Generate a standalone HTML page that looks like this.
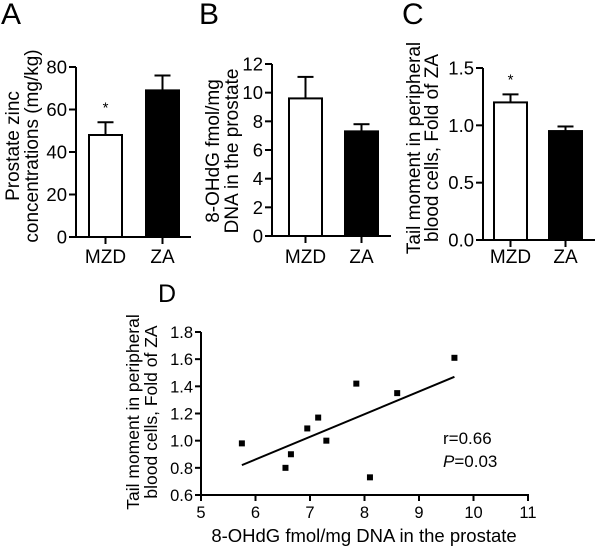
<!DOCTYPE html>
<html><head><meta charset="utf-8"><style>
body{margin:0;background:#fff}
svg{display:block;font-family:"Liberation Sans",Arial,sans-serif}
</style></head><body>
<svg id="fig" width="600" height="551" viewBox="0 0 600 551">
</svg>
<script>
const barCats=["MZD","ZA"];
const aVals=[48,69], aErr=[54,76], aTicks=[0,20,40,60,80];
const bVals=[9.6,7.3], bErr=[11.1,7.8], bTicks=[0,2,4,6,8,10,12];
const cVals=[1.20,0.95], cErr=[1.27,0.99], cTicks=["0.0","0.5","1.0","1.5"];
const dX=[5.75,6.55,6.65,6.95,7.15,7.3,7.85,8.1,8.6,9.65];
const dY=[0.98,0.80,0.90,1.09,1.17,1.0,1.42,0.73,1.35,1.61];
const dFitX=[5.75,9.65], dFitY=[0.82,1.47];
const dXTicks=[5,6,7,8,9,10,11], dYTicks=["0.6","0.8","1.0","1.2","1.4","1.6","1.8"];

const svg=document.getElementById('fig'), NS="http://www.w3.org/2000/svg";
function el(t,a,p){const e=document.createElementNS(NS,t);for(const k in a)e.setAttribute(k,a[k]);(p||svg).appendChild(e);return e;}
function txt(s,x,y,a,name){const e=el('text',Object.assign({x:x,y:y,'font-size':15,fill:'#000'},a||{}));e.textContent=s;


return e;}
function line(x1,y1,x2,y2,name,w){const e=el('line',{x1:x1,y1:y1,x2:x2,y2:y2,stroke:'#000','stroke-width':w||2});


return e;}

function barPanel(p){
  const ys=v=>p.y0-(v-p.min)/(p.max-p.min)*(p.y0-p.yTop);
  line(p.ax,p.yTop,p.ax,p.y0+1,p.id+'-y-axis');
  line(p.ax,p.y0,p.xEnd,p.y0,p.id+'-x-axis');
  p.ticks.forEach(t=>{const y=ys(+t);line(p.ax-7,y,p.ax,y,p.id+'-y-tick');
    txt(String(t),p.ax-9,y+6.5,{'text-anchor':'end','font-size':18.5},p.id+'-y-tick-label');});
  barCats.forEach((c,i)=>{
    const x0=p.bx[i], w=33, cx=x0+w/2, top=ys(p.vals[i]), et=ys(p.err[i]);
    line(cx,et,cx,top,p.id+'-error-bar');
    line(cx-8,et,cx+8,et,p.id+'-error-cap');
    const r=el('rect',{x:x0,y:top,width:w,height:p.y0-top,fill:i?'#000':'#fff',stroke:'#000','stroke-width':2});
    
    
    line(cx,p.y0,cx,p.y0+7,p.id+'-x-tick');
    txt(c,cx,263,{'text-anchor':'middle','font-size':19},p.id+'-x-label-'+c.toLowerCase());
    if(p.star&&p.star[i]) txt('*',cx,et-10,{'text-anchor':'middle','font-size':15},p.id+'-significance');
  });
  txt(p.letter,p.lx,24,{'font-size':30},p.id+'-panel-label');
  p.title.forEach((s,j)=>{txt(s,0,0,{'text-anchor':'middle','font-size':19,transform:`translate(${p.tx[j]},${p.ty}) rotate(-90)`},p.id+'-y-axis-title');});
}
barPanel({id:'a',letter:'A',lx:1,ax:76,yTop:67,y0:237,min:0,max:80,xEnd:191,ticks:aTicks,vals:aVals,err:aErr,bx:[89,146],star:[1,0],
  title:["Prostate zinc","concentrations (mg/kg)"],tx:[19,38],ty:146});
barPanel({id:'b',letter:'B',lx:199,ax:272,yTop:64,y0:236,min:0,max:12,xEnd:391,ticks:bTicks,vals:bVals,err:bErr,bx:[289,345],
  title:["8-OHdG fmol/mg","DNA in the prostate"],tx:[219,238],ty:151});
barPanel({id:'c',letter:'C',lx:402,ax:483,yTop:68,y0:240,min:0,max:1.5,xEnd:595,ticks:cTicks,vals:cVals,err:cErr,bx:[494,549],star:[1,0],
  title:["Tail moment in peripheral","blood cells, Fold of ZA"],tx:[420,438],ty:148});

// Panel D
const dx=v=>201+(v-5)/6*(528-201), dy=v=>495-(v-0.6)/1.2*(495-332);
line(201,332,201,496,'d-y-axis');line(200,495,529,495,'d-x-axis');
dYTicks.forEach(t=>{const y=dy(+t);line(195,y,201,y,'d-y-tick');txt(t,193,y+6,{'text-anchor':'end','font-size':16.5},'d-y-tick-label');});
dXTicks.forEach(t=>{const x=dx(t);line(x,495,x,501,'d-x-tick');txt(String(t),x,518,{'text-anchor':'middle','font-size':16.5},'d-x-tick-label');});
dX.forEach((v,i)=>{const r=el('rect',{x:dx(v)-3,y:dy(dY[i])-3,width:6,height:6,fill:'#000'});
  
  });
line(dx(dFitX[0]),dy(dFitY[0]),dx(dFitX[1]),dy(dFitY[1]),'d-regression-line');
txt('D',158,302,{'font-size':25},'d-panel-label');
txt('8-OHdG fmol/mg DNA in the prostate',364,542,{'text-anchor':'middle','font-size':18.5},'d-x-axis-title');
[["Tail moment in peripheral",139],["blood cells, Fold of ZA",157]].forEach(a=>txt(a[0],0,0,{'text-anchor':'middle','font-size':17.5,transform:`translate(${a[1]},412) rotate(-90)`},'d-y-axis-title'));
txt('r=0.66',443,444,{'font-size':17},'d-r-value');
const pt=txt('',443,467,{'font-size':17},'d-p-value');
pt.innerHTML='<tspan font-style="italic">P</tspan>=0.03';
</script>
</body></html>
